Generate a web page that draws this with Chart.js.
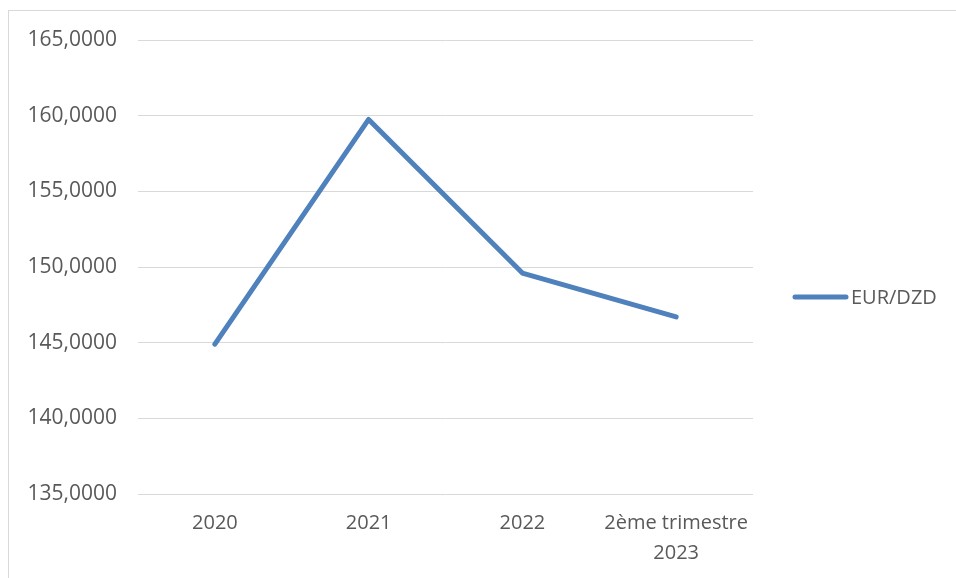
<!DOCTYPE html>
<html>
<head>
<meta charset="utf-8">
<script src="https://cdn.jsdelivr.net/npm/chart.js@4.4.0/dist/chart.umd.min.js"></script>
<style>
  html, body { margin: 0; padding: 0; background: #fff; }
  #wrap { position: relative; width: 956px; height: 578px; overflow: hidden; }
  #frame { position: absolute; left: 8px; top: 10px; width: 960px; height: 580px; border: 1px solid #d9d9d9; }
  canvas { position: absolute; left: 0; top: 0; }
</style>
</head>
<body>
<div id="wrap">
  <div id="frame"></div>
  <canvas id="myChart" width="956" height="578"></canvas>
</div>
<script>
// data
const categories = ['2020', '2021', '2022', ['2ème trimestre', '2023']];
const seriesName = 'EUR/DZD';
const rates = [144.9, 159.75, 149.6, 146.7];
const yTicks = [135, 140, 145, 150, 155, 160, 165];

const lineColor = '#4f81bd';
const textColor = '#595959';
const fontFam = "'Open Sans', 'Liberation Sans', sans-serif";

// legend drawn on the right, like the excel one
const sideLegend = {
  id: 'sideLegend',
  afterDraw(chart) {
    const ctx = chart.ctx;
    const ds = chart.data.datasets[0];
    const y = 297;
    ctx.save();
    ctx.strokeStyle = ds.borderColor;
    ctx.lineWidth = 5;
    ctx.lineCap = 'round';
    ctx.beginPath();
    ctx.moveTo(795, y);
    ctx.lineTo(846, y);
    ctx.stroke();
    ctx.fillStyle = textColor;
    ctx.font = '20px ' + fontFam;
    ctx.textBaseline = 'middle';
    ctx.fillText(ds.label, 851, y + 1);
    ctx.restore();
  }
};

const data = {
  labels: categories,
  datasets: [{
    label: seriesName,
    data: rates,
    borderColor: lineColor,
    backgroundColor: lineColor,
    borderWidth: 5,
    borderCapStyle: 'round',
    borderJoinStyle: 'round',
    pointRadius: 0,
    tension: 0
  }]
};

const config = {
  type: 'line',
  data,
  options: {
    responsive: false,
    animation: false,
    layout: { padding: { left: 0, right: 203, top: 40, bottom: 0 } },
    plugins: {
      legend: { display: false },
      tooltip: { enabled: false }
    },
    scales: {
      x: {
        offset: true,
        grid: { display: false, drawTicks: false },
        border: { display: false },
        ticks: {
          color: textColor,
          font: { family: fontFam, size: 20, lineHeight: 1.5 },
          padding: 14,
          maxRotation: 0,
          autoSkip: false
        },
        afterFit(scale) { scale.height = 84; }
      },
      y: {
        min: yTicks[0],
        max: yTicks[yTicks.length - 1],
        afterBuildTicks(scale) { scale.ticks = yTicks.map(v => ({ value: v })); },
        grid: { color: '#d9d9d9', lineWidth: 1, drawTicks: false },
        border: { display: false },
        ticks: {
          color: textColor,
          font: { family: fontFam, size: 21 },
          padding: 21,
          callback: v => v.toFixed(4).replace('.', ',')
        },
        afterFit(scale) { scale.width = 138; }
      }
    }
  },
  plugins: [sideLegend]
};

const myChart = new Chart(document.getElementById('myChart'), config);
</script>
</body>
</html>
